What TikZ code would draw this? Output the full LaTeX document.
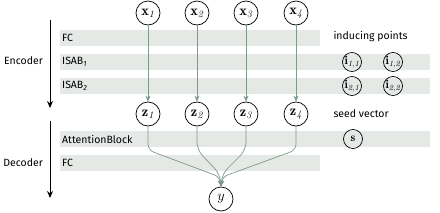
\documentclass[tikz,border=0pt]{standalone}
\usepackage{fontspec}
\setsansfont{Fira Sans}
\usetikzlibrary{arrows.meta}
\definecolor{bandgray}{RGB}{228,233,230}
\definecolor{linkgreen}{RGB}{126,153,138}

\begin{document}
\begin{tikzpicture}[x=1pt, y=-1pt,
	band/.style={fill=bandgray, draw=none},
	bandlabel/.style={anchor=west, font=\sffamily\fontsize{10.5}{12}\selectfont, inner sep=0pt},
	sidelabel/.style={anchor=east, font=\sffamily\fontsize{10.5}{12}\selectfont, inner sep=0pt},
	var/.style={circle, draw=black, line width=0.7pt, minimum size=24pt, inner sep=0pt, font=\Large},
	small/.style={circle, draw=black, line width=0.7pt, minimum size=19pt, inner sep=0pt, font=\large},
	link/.style={-{Stealth[length=6pt, width=5pt]}, draw=linkgreen, line width=0.7pt},
	phase/.style={-{Stealth[length=7pt, width=6pt]}, draw=black, line width=1pt}
	]
\useasboundingbox (0,0) rectangle (440,212);

\fill[band] (60,30) rectangle (320,46);
\fill[band] (60,54) rectangle (430,70);
\fill[band] (60,78) rectangle (430,94);
\fill[band] (60,131) rectangle (430,147);
\fill[band] (60,155) rectangle (320,171);

\node[bandlabel] (fcenc) at (62,38) {FC};
\node[bandlabel] (isab1) at (62,62) {ISAB\textsubscript{\textit{1}}};
\node[bandlabel] (isab2) at (62,86) {ISAB\textsubscript{\textit{2}}};
\node[bandlabel] (attn) at (62,139) {AttentionBlock};
\node[bandlabel] (fcdec) at (62,163) {FC};

\coordinate (enctop) at (50,20);
\coordinate (encbot) at (50,108);
\coordinate (dectop) at (50,121);
\coordinate (decbot) at (50,198);
\draw[phase] (enctop) -- (encbot);
\draw[phase] (dectop) -- (decbot);
\node[sidelabel] (enc) at (43,61) {Encoder};
\node[sidelabel] (dec) at (43,163) {Decoder};

\foreach \i/\x in {1/148, 2/197, 3/246, 4/296} {
  \node[var] (x\i) at (\x,13) {$\mathbf{x}_{\mathit{\i}}$};
  \node[var] (z\i) at (\x,114) {$\mathbf{z}_{\mathit{\i}}$};
  \draw[link] (x\i) -- (z\i);
}

\node[var] (y) at (221,199) {$y$};
\draw[link, rounded corners=6pt] (z1.south) -- (148,150) -- (220,177) -- (y.north);
\draw[link, rounded corners=8pt] (z2.south) -- (197,150) -- (220,174) -- (y.north);
\draw[link, rounded corners=8pt] (z3.south) -- (246,150) -- (222,174) -- (y.north);
\draw[link, rounded corners=6pt] (z4.south) -- (296,150) -- (222,177) -- (y.north);

\node[anchor=west, font=\sffamily\fontsize{10.5}{12}\selectfont] (ind) at (330,37) {inducing points};
\node[small] (i11) at (352,62) {$\mathbf{i}_{\mathit{1,1}}$};
\node[small] (i12) at (393,62) {$\mathbf{i}_{\mathit{1,2}}$};
\node[small] (i21) at (352,86) {$\mathbf{i}_{\mathit{2,1}}$};
\node[small] (i22) at (393,86) {$\mathbf{i}_{\mathit{2,2}}$};

\node[anchor=west, font=\sffamily\fontsize{10.5}{12}\selectfont] (seed) at (330,114) {seed vector};
\node[small] (s) at (353,139) {$\mathbf{s}$};
\end{tikzpicture}
\end{document}
